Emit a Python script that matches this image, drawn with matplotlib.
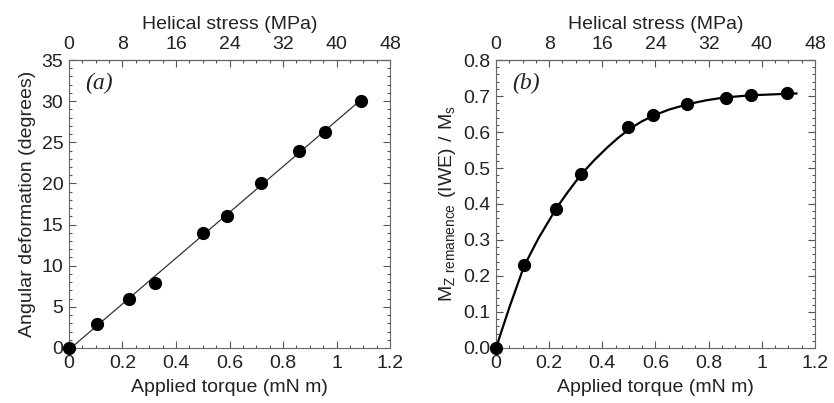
import numpy as np
import matplotlib
matplotlib.use("Agg")
import matplotlib.pyplot as plt
from matplotlib.ticker import MultipleLocator, FixedLocator

plt.rcParams['font.family'] = ['Liberation Sans', 'DejaVu Sans']
plt.rcParams['mathtext.fontset'] = 'custom'
plt.rcParams['mathtext.rm'] = 'Liberation Sans'

# torque values (mN m) shared by both panels
torque = [0.0, 0.106, 0.225, 0.32, 0.50, 0.589, 0.716, 0.859, 0.955, 1.092]

# (a) angular deformation (degrees)
angle = [0.0, 2.95, 5.95, 7.95, 14.0, 16.0, 20.0, 24.0, 26.3, 30.0]

# (b) remanent magnetisation ratio
torque_b = [0.0, 0.106, 0.227, 0.32, 0.498, 0.591, 0.718, 0.864, 0.959, 1.094]
mz = [0.0, 0.23, 0.386, 0.484, 0.613, 0.647, 0.678, 0.695, 0.704, 0.707]

# smooth fitted curve in (b)
fit_x = [0.0, 0.05, 0.106, 0.16, 0.227, 0.27, 0.32, 0.37, 0.42, 0.46, 0.5,
         0.545, 0.59, 0.65, 0.72, 0.79, 0.86, 0.96, 1.09, 1.13]
fit_y = [0.0, 0.112, 0.228, 0.305, 0.388, 0.433, 0.482, 0.522, 0.558, 0.584,
         0.607, 0.628, 0.645, 0.662, 0.677, 0.688, 0.696, 0.702, 0.706, 0.707]

# top axis ticks (MPa)
stress_ticks = [0, 8, 16, 24, 32, 40, 48]
stress_minor = list(range(0, 49, 2))

stress_per_torque = 40.0  # MPa per mN m
txt = '#222222'
fs = 14

fig = plt.figure(figsize=(8.34, 4.03), dpi=100)
ax1 = fig.add_axes([0.0827, 0.1365, 0.385, 0.7146])
ax2 = fig.add_axes([0.5947, 0.1365, 0.3825, 0.7146])


def style(ax, ymaj, ymin):
    ax.set_xlim(0, 1.2)
    ax.xaxis.set_major_locator(MultipleLocator(0.2))
    ax.xaxis.set_minor_locator(MultipleLocator(0.05))
    ax.yaxis.set_major_locator(MultipleLocator(ymaj))
    ax.yaxis.set_minor_locator(MultipleLocator(ymin))
    ax.tick_params(which='both', direction='in', top=False, right=True,
                   colors='#555555', labelcolor=txt, labelsize=fs, width=0.8)
    ax.tick_params(which='major', length=5)
    ax.tick_params(which='minor', length=2.5)
    ax.tick_params(axis='x', which='major', pad=5)
    ax.tick_params(axis='y', which='major', pad=4)
    ax.xaxis.set_major_formatter(plt.FuncFormatter(lambda v, p: f'{v:g}'))
    for s in ax.spines.values():
        s.set_color('#666666')
        s.set_linewidth(0.8)
    ax.set_xlabel('Applied torque (mN m)', fontsize=fs, color=txt, labelpad=5)
    sec = ax.secondary_xaxis('top', functions=(lambda x: x * stress_per_torque,
                                               lambda x: x / stress_per_torque))
    sec.xaxis.set_major_locator(FixedLocator(stress_ticks))
    sec.xaxis.set_minor_locator(FixedLocator(stress_minor))
    sec.tick_params(which='both', direction='in', colors='#555555',
                    labelcolor=txt, labelsize=fs, width=0.8)
    sec.tick_params(which='major', length=5, pad=5)
    sec.tick_params(which='minor', length=2.5)
    sec.set_xlabel('Helical stress (MPa)', fontsize=fs, color=txt, labelpad=5)


# panel (a)
style(ax1, 5, 1)
ax1.set_ylim(0, 35)
coef = np.polyfit(torque, angle, 1)
lx = np.array([0.0, max(torque)])
ax1.plot(lx, np.polyval(coef, lx), color='#333333', lw=0.9, zorder=2)
ax1.plot(torque, angle, 'o', color='black', ms=8.5, zorder=3, clip_on=False)
ax1.set_ylabel('Angular deformation (degrees)', fontsize=fs, color=txt, labelpad=4)
ax1.text(0.05, 0.9, '(a)', transform=ax1.transAxes, fontsize=17,
         family='Liberation Serif', style='italic', color=txt)

# panel (b)
style(ax2, 0.1, 0.02)
ax2.set_ylim(0, 0.8)
ax2.yaxis.set_major_formatter(plt.FuncFormatter(lambda v, p: f'{v:.1f}'))
ax2.plot(fit_x, fit_y, color='black', lw=1.6, zorder=2)
ax2.plot(torque_b, mz, 'o', color='black', ms=8.5, zorder=3, clip_on=False)
ax2.set_ylabel(r'$\mathregular{M_{Z\ remanence}\ (IWE)\ /\ M_s}$',
               fontsize=fs, color=txt, labelpad=4)
ax2.text(0.05, 0.9, '(b)', transform=ax2.transAxes, fontsize=17,
         family='Liberation Serif', style='italic', color=txt)

fig.savefig('out.png', dpi=100)
